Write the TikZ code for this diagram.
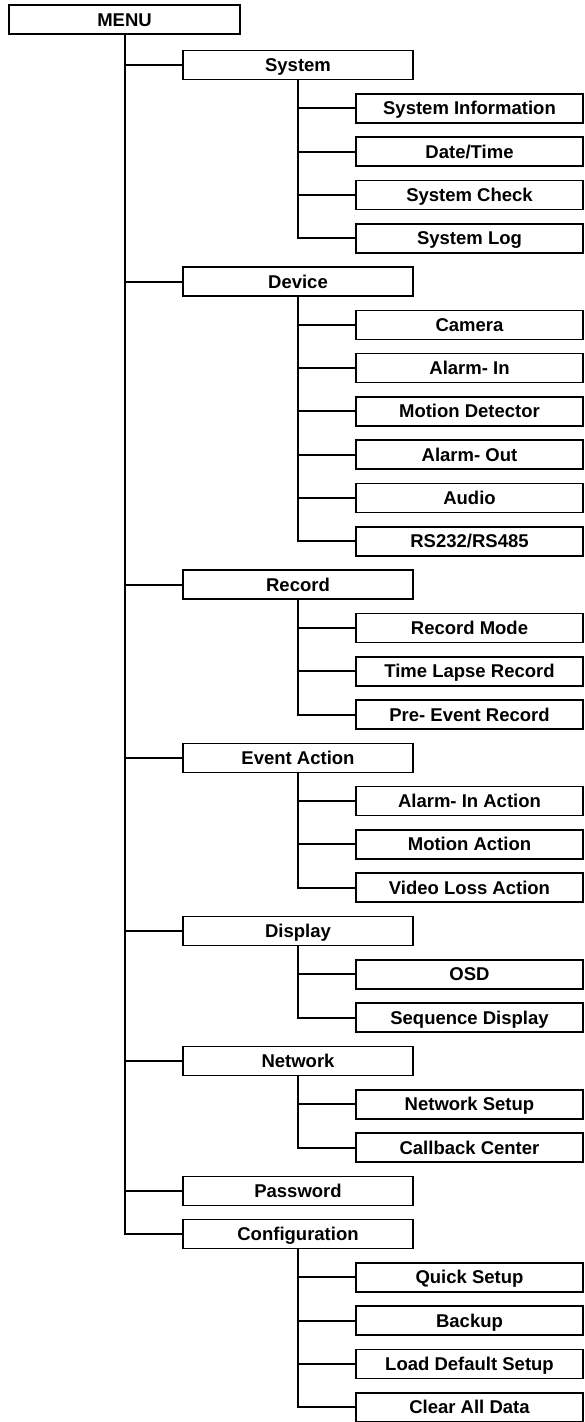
\documentclass[tikz,border=0pt]{standalone}
\usepackage{fontspec}
\setmainfont{Liberation Sans}
\begin{document}
\begin{tikzpicture}[x=1pt, y=-1pt,
    kotak/.style={draw, line width=1.6pt, minimum height=29pt, inner sep=0pt,
                  text height=13pt, text depth=0pt,
                  font=\fontsize{18.5}{20}\selectfont\bfseries},
    menubox/.style={kotak, minimum width=231pt},
    induk/.style={kotak, minimum width=230pt},
    anak/.style={kotak, minimum width=227pt},
    link/.style={line width=2pt}]

    \useasboundingbox (0,0) rectangle (584,1422);

    % Menu utama
    \node[menubox] (menu) at (124.5,19.5) {MENU};

    % Submenu tingkat pertama
    \node[induk] (sys)  at (298,65)     {System};
    \node[induk] (dev)  at (298,281.5)  {Device};
    \node[induk] (rec)  at (298,584.6)  {Record};
    \node[induk] (evt)  at (298,757.8)  {Event Action};
    \node[induk] (disp) at (298,931.0)  {Display};
    \node[induk] (net)  at (298,1060.9) {Network};
    \node[induk] (pwd)  at (298,1190.8) {Password};
    \node[induk] (conf) at (298,1234.1) {Configuration};

    % Submenu tingkat kedua
    \node[anak] (sysinfo)  at (469.5,108.3)  {System Information};
    \node[anak] (datetime) at (469.5,151.6)  {Date/Time};
    \node[anak] (syscheck) at (469.5,194.9)  {System Check};
    \node[anak] (syslog)   at (469.5,238.2)  {System Log};

    \node[anak] (cam)      at (469.5,324.8)  {Camera};
    \node[anak] (alin)     at (469.5,368.1)  {Alarm- In};
    \node[anak] (motdet)   at (469.5,411.4)  {Motion Detector};
    \node[anak] (alout)    at (469.5,454.7)  {Alarm- Out};
    \node[anak] (audio)    at (469.5,498.0)  {Audio};
    \node[anak] (serial)   at (469.5,541.3)  {RS232/RS485};

    \node[anak] (recmode)  at (469.5,627.9)  {Record Mode};
    \node[anak] (tlapse)   at (469.5,671.2)  {Time Lapse Record};
    \node[anak] (prevent)  at (469.5,714.5)  {Pre- Event Record};

    \node[anak] (alinact)  at (469.5,801.1)  {Alarm- In Action};
    \node[anak] (motact)   at (469.5,844.4)  {Motion Action};
    \node[anak] (vloss)    at (469.5,887.7)  {Video Loss Action};

    \node[anak] (osd)      at (469.5,974.3)  {OSD};
    \node[anak] (seqdisp)  at (469.5,1017.6) {Sequence Display};

    \node[anak] (netsetup) at (469.5,1104.2) {Network Setup};
    \node[anak] (callback) at (469.5,1147.5) {Callback Center};

    \node[anak] (quick)    at (469.5,1277.4) {Quick Setup};
    \node[anak] (backup)   at (469.5,1320.7) {Backup};
    \node[anak] (loaddef)  at (469.5,1364.0) {Load Default Setup};
    \node[anak] (clear)    at (469.5,1407.3) {Clear All Data};

    % Garis penghubung dari menu utama
    \draw[link] (menu.south) |- (sys.west);
    \draw[link] (menu.south) |- (dev.west);
    \draw[link] (menu.south) |- (rec.west);
    \draw[link] (menu.south) |- (evt.west);
    \draw[link] (menu.south) |- (disp.west);
    \draw[link] (menu.south) |- (net.west);
    \draw[link] (menu.south) |- (pwd.west);
    \draw[link] (menu.south) |- (conf.west);

    % Garis penghubung ke submenu kedua
    \draw[link] (sys.south) |- (sysinfo.west);
    \draw[link] (sys.south) |- (datetime.west);
    \draw[link] (sys.south) |- (syscheck.west);
    \draw[link] (sys.south) |- (syslog.west);

    \draw[link] (dev.south) |- (cam.west);
    \draw[link] (dev.south) |- (alin.west);
    \draw[link] (dev.south) |- (motdet.west);
    \draw[link] (dev.south) |- (alout.west);
    \draw[link] (dev.south) |- (audio.west);
    \draw[link] (dev.south) |- (serial.west);

    \draw[link] (rec.south) |- (recmode.west);
    \draw[link] (rec.south) |- (tlapse.west);
    \draw[link] (rec.south) |- (prevent.west);

    \draw[link] (evt.south) |- (alinact.west);
    \draw[link] (evt.south) |- (motact.west);
    \draw[link] (evt.south) |- (vloss.west);

    \draw[link] (disp.south) |- (osd.west);
    \draw[link] (disp.south) |- (seqdisp.west);

    \draw[link] (net.south) |- (netsetup.west);
    \draw[link] (net.south) |- (callback.west);

    \draw[link] (conf.south) |- (quick.west);
    \draw[link] (conf.south) |- (backup.west);
    \draw[link] (conf.south) |- (loaddef.west);
    \draw[link] (conf.south) |- (clear.west);

\end{tikzpicture}
\end{document}
